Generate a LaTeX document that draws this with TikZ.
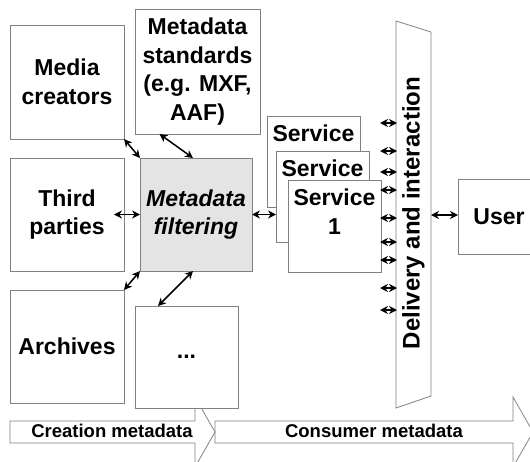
\documentclass[tikz,border=0pt]{standalone}
\usepackage{fontspec}
\setmainfont{Liberation Sans}
\usetikzlibrary{arrows.meta,calc}
\definecolor{edge}{HTML}{808080}
\definecolor{fgray}{HTML}{E4E4E4}
\begin{document}
\begin{tikzpicture}[x=1pt,y=-1pt,
  box/.style={draw=edge,line width=0.8pt,fill=white,inner sep=0pt,outer sep=0pt,align=center,
    font=\fontsize{23}{28.5}\selectfont\bfseries},
  lbl/.style={inner sep=0pt,align=center,font=\fontsize{23}{28.5}\selectfont\bfseries},
  dbl/.style={{Stealth[length=8pt,width=8pt]}-{Stealth[length=8pt,width=8pt]},line width=1.5pt,black},
  band/.style={draw=edge,line width=0.8pt},
  bandtext/.style={inner sep=0pt,font=\fontsize{18.5}{22}\selectfont\bfseries}]
\useasboundingbox (0,0) rectangle (530,461);
\clip (0,0) rectangle (530,461);
% bottom bands
\draw[band] (10,421) -- (195,421) -- (195,397) -- (215,432) -- (195,467) -- (195,443) -- (10,443) -- cycle;
\draw[band] (215,421) -- (513,421) -- (513,397) -- (533,432) -- (513,467) -- (513,443) -- (215,443) -- cycle;
\node[bandtext] (creation) at (112,431) {Creation metadata};
\node[bandtext] (consumer) at (374,431) {Consumer metadata};
% boxes
\node[box,minimum width=114pt,minimum height=114pt] (media) at (67,82) {Media\\creators};
\node[box,minimum width=125pt,minimum height=125pt] (std) at (197.5,71.5) {Metadata\\standards\\(e.g. MXF,\\AAF)};
\node[box,minimum width=114pt,minimum height=113pt] (third) at (67,214.5) {Third\\parties};
\node[box,fill=fgray,minimum width=112pt,minimum height=113pt] (filter) at (196,214.5) {\itshape Metadata\\\itshape filtering};
\node[box,minimum width=114pt,minimum height=113pt] (arch) at (67,346.5) {Archives};
\node[box,minimum width=103pt,minimum height=102pt] (dots) at (186.5,357) {...};
\node[box,minimum width=93pt,minimum height=91pt] (s3) at (313.5,161.5) {};
\node[lbl,anchor=north] (s3t) at ([yshift=-9pt]s3.north) {Service};
\node[box,minimum width=93pt,minimum height=91pt] (s2) at (322.5,196.5) {};
\node[lbl,anchor=north] (s2t) at ([yshift=-9pt]s2.north) {Service};
\node[box,minimum width=93pt,minimum height=92pt] (s1) at (334.5,226) {};
\node[lbl,anchor=north] (s1t) at ([yshift=-9pt]s1.north) {Service\\1};
\node[box,minimum width=82pt,minimum height=75pt] (user) at (499,216.5) {User};
% delivery band
\draw[band,fill=white] (396,21) -- (431,32) -- (431,396) -- (396,408) -- cycle;
\coordinate (dleft) at (396,215);
\coordinate (dright) at (431,215);
\node[lbl,rotate=90,font=\fontsize{24}{28}\selectfont\bfseries] (deliv) at (413.5,213) {Delivery and interaction};
% connectors
\draw[dbl] (media.south east) -- (filter.north west);
\draw[dbl] ([xshift=-38pt]std.south) -- ([xshift=-3pt]filter.north);
\draw[dbl,shorten <=-10pt] (third.east) -- (filter.west);
\draw[dbl] (arch.north east) -- (filter.south west);
\draw[dbl] ([xshift=23pt]dots.north west) -- ([xshift=-3pt]filter.south);
\draw[dbl] (filter.east) -- (filter.east -| s2.west);
\draw[dbl] (dright) -- (dright -| user.west);
\foreach \y [count=\i] in {123,151,172,190,218,242,260,288,310}{
  \coordinate (d\i) at (397,\y);
  \draw[dbl] ($(d\i)+(-17,0)$) -- (d\i);
}
\end{tikzpicture}
\end{document}
